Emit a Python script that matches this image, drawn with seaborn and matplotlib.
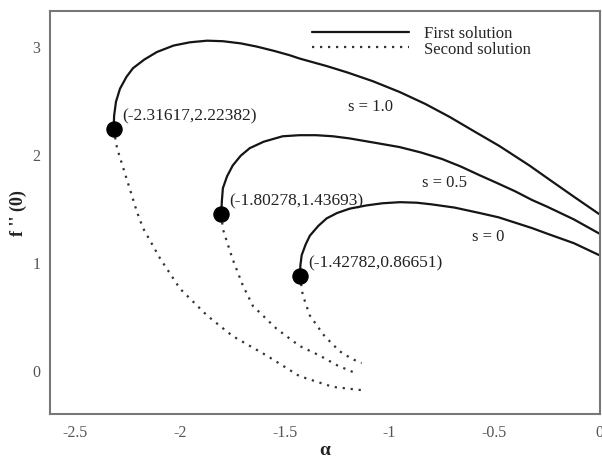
import matplotlib
matplotlib.use("Agg")
import matplotlib.pyplot as plt
import seaborn as sns
import numpy as np
import pandas as pd

# turning points (alpha_c, f''(0)) for each s
s_values = ["1.0", "0.5", "0"]
turn_x = [-2.31617, -1.80278, -1.42782]
turn_y = [2.22382, 1.43693, 0.86651]

# first solution (upper branch)
first_x_s10 = [-2.31617, -2.314, -2.305, -2.286, -2.255, -2.224, -2.17, -2.11, -2.03, -1.952,
               -1.87, -1.795, -1.71, -1.633, -1.55, -1.476, -1.43, -1.3, -1.2, -1.08, -0.952,
               -0.83, -0.714, -0.6, -0.476, -0.333, -0.238, -0.12, 0.0]
first_y_s10 = [2.22382, 2.35, 2.48, 2.60, 2.71, 2.79, 2.87, 2.94, 3.00, 3.03,
               3.045, 3.04, 3.02, 2.99, 2.95, 2.91, 2.88, 2.81, 2.75, 2.67, 2.57,
               2.46, 2.34, 2.21, 2.07, 1.89, 1.76, 1.60, 1.44]
first_x_s05 = [-1.80278, -1.800, -1.795, -1.775, -1.748, -1.71, -1.667, -1.60, -1.51, -1.43,
               -1.35, -1.27, -1.19, -1.07, -0.952, -0.85, -0.75, -0.66, -0.571, -0.49,
               -0.40, -0.32, -0.25, -0.12, 0.0]
first_y_s05 = [1.43693, 1.56, 1.68, 1.79, 1.89, 1.98, 2.05, 2.11, 2.16, 2.17,
               2.17, 2.16, 2.14, 2.10, 2.06, 2.01, 1.95, 1.88, 1.80, 1.73,
               1.65, 1.57, 1.51, 1.39, 1.26]
first_x_s0 = [-1.42782, -1.425, -1.419, -1.40, -1.38, -1.34, -1.30, -1.25, -1.19, -1.11,
              -1.033, -0.95, -0.87, -0.80, -0.69, -0.571, -0.48, -0.40, -0.32, -0.25, -0.12, 0.0]
first_y_s0 = [0.86651, 0.97, 1.06, 1.16, 1.24, 1.33, 1.40, 1.45, 1.49, 1.52,
              1.54, 1.55, 1.545, 1.53, 1.50, 1.45, 1.41, 1.36, 1.31, 1.26, 1.17, 1.06]

# second solution (lower branch)
second_x_s10 = [-2.31617, -2.30, -2.25, -2.205, -2.176, -2.095, -2.0, -1.87, -1.748, -1.586,
                -1.43, -1.27, -1.133]
second_y_s10 = [2.22382, 2.05, 1.74, 1.46, 1.31, 1.03, 0.75, 0.50, 0.31, 0.13,
                -0.06, -0.16, -0.19]
second_x_s05 = [-1.80278, -1.795, -1.77, -1.748, -1.70, -1.652, -1.54, -1.43, -1.333, -1.25,
                -1.19, -1.152]
second_y_s05 = [1.43693, 1.30, 1.15, 1.02, 0.78, 0.59, 0.38, 0.22, 0.13, 0.04,
                -0.01, -0.04]
second_x_s0 = [-1.42782, -1.414, -1.38, -1.31, -1.238, -1.18, -1.133]
second_y_s0 = [0.86651, 0.69, 0.50, 0.31, 0.17, 0.10, 0.06]

# curve labels
label_text = ["s = 1.0", "s = 0.5", "s = 0"]
label_x = [-1.09, -0.74, -0.53]
label_y = [2.44, 1.74, 1.24]

sns.set_theme(style="white")
plt.rcParams['font.family'] = ['Liberation Serif', 'DejaVu Serif']

fig = plt.figure(figsize=(6.02, 4.60), dpi=100)
ax = fig.add_axes([0.083, 0.098, 0.914, 0.876])

first = [(first_x_s10, first_y_s10), (first_x_s05, first_y_s05), (first_x_s0, first_y_s0)]
second = [(second_x_s10, second_y_s10), (second_x_s05, second_y_s05), (second_x_s0, second_y_s0)]

for i, (xs, ys) in enumerate(first):
    sns.lineplot(x=xs, y=ys, sort=False, estimator=None, ax=ax, color="#151515",
                 linewidth=1.6, label="First solution" if i == 0 else None)
for i, (xs, ys) in enumerate(second):
    sns.lineplot(x=xs, y=ys, sort=False, estimator=None, ax=ax, color="#333333",
                 linewidth=1.6, linestyle=(0, (1, 2.6)),
                 label="Second solution" if i == 0 else None)

sns.scatterplot(x=turn_x, y=turn_y, ax=ax, color="black", s=120, edgecolor="black",
                zorder=5, legend=False)

for tx, ty in zip(turn_x, turn_y):
    ax.annotate(f"({tx},{ty})", (tx, ty), xytext=(6, 10), textcoords="offset points",
                fontsize=12.5, color="#222222", va="center", ha="left")

for t, lx, ly in zip(label_text, label_x, label_y):
    ax.text(lx, ly, t, fontsize=12, color="#222222", ha="center", va="center")

ax.set_xlim(-2.62, 0.005)
ax.set_ylim(-0.41, 3.32)
ax.set_xticks([-2.5, -2, -1.5, -1, -0.5, 0])
ax.set_xticklabels(["-2.5", "-2", "-1.5", "-1", "-0.5", "0"])
ax.set_yticks([0, 1, 2, 3])
ax.tick_params(axis="both", labelsize=11.5, labelcolor="#555555", length=2,
               color="#999999", width=0.8, pad=5)

for sp in ax.spines.values():
    sp.set_color("#777777")
    sp.set_linewidth(1.5)

ax.set_xlabel("α", fontsize=14, fontweight="bold", color="#222222", labelpad=1)
ax.set_ylabel("f '' (0)", fontsize=13, fontweight="bold", color="#222222", labelpad=4)

ax.legend(loc="upper right", bbox_to_anchor=(0.895, 0.993), frameon=False, fontsize=12,
          handlelength=5.8, labelspacing=-0.05, handletextpad=0.9, borderaxespad=0.3)

fig.savefig("out.png", dpi=100)
